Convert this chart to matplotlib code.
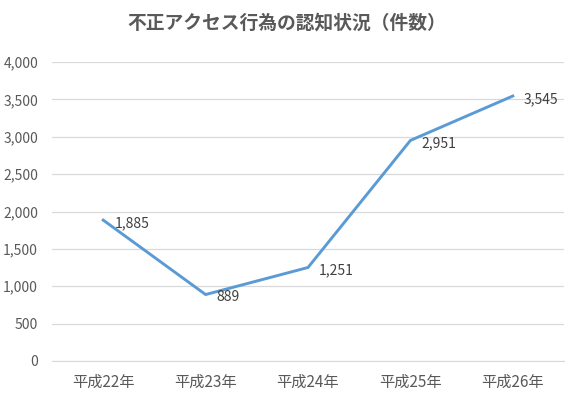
import matplotlib
matplotlib.use("Agg")
import matplotlib.pyplot as plt

plt.rcParams['font.family'] = ['Noto Sans CJK JP', 'DejaVu Sans']

years = ['平成22年', '平成23年', '平成24年', '平成25年', '平成26年']
counts = [1885, 889, 1251, 2951, 3545]
yticks = [0, 500, 1000, 1500, 2000, 2500, 3000, 3500, 4000]

fig = plt.figure(figsize=(5.74, 3.96), dpi=100)
ax = fig.add_axes([0.0906, 0.0884, 0.892, 0.755])

x = list(range(len(years)))
ax.plot(x, counts, color='#5B9BD5', linewidth=2.1, solid_joinstyle='miter')

for xi, v in zip(x, counts):
    ax.annotate(f'{v:,}', (xi, v), xytext=(8, -2), textcoords='offset points',
                ha='left', va='center', fontsize=10, color='#404040')

ax.set_xlim(-0.5, len(years) - 0.5)
ax.set_ylim(0, 4000)
ax.set_yticks(yticks)
ax.set_yticklabels([f'{t:,}' for t in yticks], fontsize=10)
ax.set_xticks(x)
ax.set_xticklabels(years, fontsize=11)
ax.tick_params(axis='both', length=0, colors='#595959')
ax.tick_params(axis='y', pad=10)
ax.tick_params(axis='x', pad=9)

ax.grid(axis='y', color='#D9D9D9', linewidth=0.9)
ax.set_axisbelow(True)
for s in ['top', 'right', 'left']:
    ax.spines[s].set_visible(False)
ax.spines['bottom'].set_color('#D9D9D9')

fig.text(0.5, 0.942, '不正アクセス行為の認知状況（件数）', ha='center', va='center',
         fontsize=13.5, fontweight='bold', color='#595959')

fig.savefig('out.png', dpi=100)
